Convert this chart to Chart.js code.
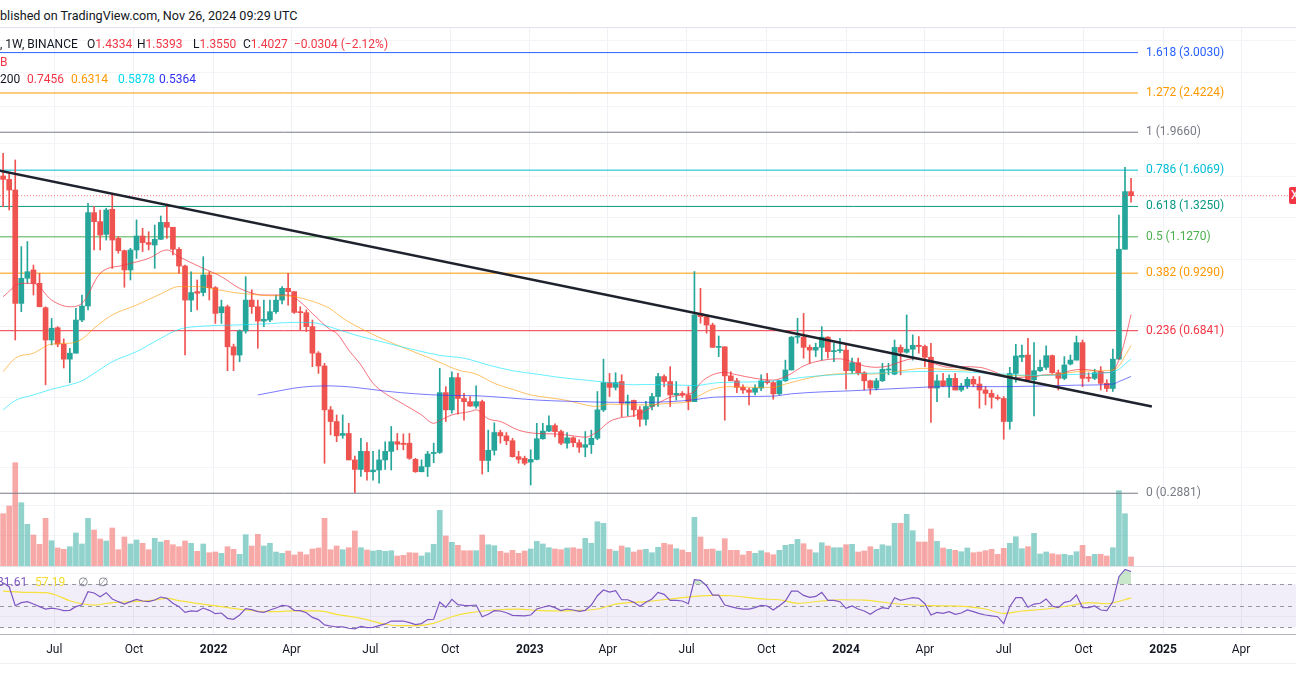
<!DOCTYPE html>
<html>
<head>
<meta charset="utf-8">
<title>1W BINANCE</title>
<script src="https://cdn.jsdelivr.net/npm/chart.js@4.4.1/dist/chart.umd.min.js"></script>
<style>
  html, body { margin: 0; padding: 0; background: #ffffff; }
  body { position: relative; width: 1296px; height: 700px; overflow: hidden;
         font-family: Roboto, "Liberation Sans", Arial, sans-serif; color: #131722; }
  .t { position: absolute; white-space: pre; font-size: 12px; line-height: 14px; z-index: 5; }
  .red { color: #f23645; }
  .sep { position: absolute; left: 0; width: 1296px; height: 1px; z-index: 4; }
  #priceBox { position: absolute; left: 0; top: 28px; width: 1296px; height: 538px; }
  #rsiBox { position: absolute; left: 0; top: 566px; width: 1296px; height: 97px; }
  #xTag { position: absolute; left: 1289px; top: 187px; width: 14px; height: 17px; background: #f23645;
          border-radius: 2px; color: #fff; font-size: 12px; line-height: 17px; padding-left: 2px; z-index: 6; }
</style>
</head>
<body>
<div class="t" style="left:0;top:9px;font-size:12.6px">blished on TradingView.com, Nov 26, 2024 09:29 UTC</div>
<div class="sep" style="top:27px;background:#e0e3eb"></div>

<div class="t" style="left:0;top:37px">, 1W, BINANCE</div>
<div class="t" style="left:87px;top:37px">O<span class="red">1.4334</span></div>
<div class="t" style="left:137px;top:37px">H<span class="red">1.5393</span></div>
<div class="t" style="left:193px;top:37px">L<span class="red">1.3550</span></div>
<div class="t" style="left:243px;top:37px">C<span class="red">1.4027</span></div>
<div class="t red" style="left:294px;top:37px">−0.0304 (−2.12%)</div>
<div class="t red" style="left:0;top:55px">B</div>
<div class="t" style="left:0;top:72px">200</div>
<div class="t" style="left:27px;top:72px;color:#f23645">0.7456</div>
<div class="t" style="left:71px;top:72px;color:#ff9800">0.6314</div>
<div class="t" style="left:118px;top:72px;color:#00d8ee">0.5878</div>
<div class="t" style="left:159px;top:72px;color:#2f2ff0">0.5364</div>

<div id="priceBox"><canvas id="priceChart" width="1296" height="538"></canvas></div>
<div class="sep" style="top:566px;background:#e0e3eb"></div>
<div id="rsiBox"><canvas id="rsiChart" width="1296" height="97"></canvas></div>
<div class="sep" style="top:663px;background:#eef0f4"></div>

<div class="t" style="left:-3px;top:575px;color:#7e57c2">81.61</div>
<div class="t" style="left:35px;top:575px;color:#f2dc2f">57.19</div>
<div class="t" style="left:78px;top:575px;color:#787b86">∅</div>
<div class="t" style="left:98px;top:575px;color:#787b86">∅</div>
<div id="xTag">X</div>

<script>
// weekly candles, first bar = week of 2021-05-03
const firstWeekDate = '2021-05-03';

const opens = [
  1.558,1.530,1.446,0.791,0.904,0.945,0.880,0.773,0.651,0.695,
  0.637,0.588,0.607,0.724,0.780,1.282,1.222,1.142,1.305,1.118,
  1.047,0.945,1.051,1.132,1.093,1.079,1.112,1.217,1.186,1.055,
  0.965,0.805,0.842,0.838,0.920,0.860,0.753,0.777,0.628,0.601,
  0.683,0.805,0.777,0.720,0.724,0.757,0.805,0.857,0.842,0.757,
  0.753,0.699,0.607,0.567,0.449,0.422,0.392,0.396,0.344,0.327,
  0.360,0.323,0.326,0.344,0.360,0.379,0.376,0.376,0.345,0.323,
  0.332,0.356,0.358,0.492,0.449,0.533,0.477,0.469,0.458,0.469,
  0.343,0.362,0.398,0.391,0.381,0.350,0.347,0.340,0.345,0.385,
  0.401,0.413,0.400,0.376,0.387,0.377,0.368,0.373,0.386,0.449,
  0.519,0.506,0.522,0.465,0.472,0.449,0.427,0.457,0.482,0.536,
  0.522,0.486,0.490,0.486,0.469,0.750,0.737,0.705,0.626,0.628,
  0.538,0.524,0.506,0.499,0.493,0.504,0.524,0.519,0.489,0.524,
  0.555,0.661,0.661,0.626,0.617,0.626,0.661,0.612,0.615,0.617,
  0.553,0.577,0.547,0.524,0.504,0.524,0.555,0.543,0.626,0.610,
  0.620,0.633,0.629,0.594,0.504,0.524,0.510,0.531,0.499,0.510,
  0.528,0.515,0.499,0.490,0.480,0.477,0.422,0.545,0.594,0.601,
  0.527,0.553,0.563,0.599,0.547,0.531,0.573,0.585,0.642,0.534,
  0.531,0.550,0.517,0.503,0.588,1.055,1.4334
];
const highs = [
  1.757,1.580,1.696,1.070,1.099,0.970,0.928,0.777,0.730,0.699,
  0.655,0.623,0.771,0.827,1.347,1.323,1.300,1.312,1.421,1.128,
  1.051,1.060,1.233,1.179,1.158,1.200,1.259,1.342,1.186,1.064,
  0.970,0.936,0.896,1.014,0.936,0.865,0.805,0.784,0.637,0.687,
  0.912,0.850,0.805,0.805,0.805,0.827,0.865,0.928,0.842,0.777,
  0.764,0.724,0.612,0.575,0.457,0.437,0.437,0.418,0.351,0.386,
  0.377,0.360,0.363,0.379,0.411,0.396,0.395,0.396,0.347,0.344,
  0.360,0.376,0.560,0.508,0.550,0.545,0.490,0.482,0.510,0.473,
  0.403,0.419,0.403,0.398,0.386,0.360,0.351,0.363,0.418,0.418,
  0.435,0.417,0.403,0.398,0.389,0.383,0.400,0.403,0.495,0.588,
  0.545,0.547,0.541,0.486,0.473,0.457,0.470,0.490,0.545,0.541,
  0.565,0.522,0.495,0.508,0.937,0.857,0.744,0.712,0.665,0.628,
  0.550,0.531,0.513,0.504,0.513,0.541,0.545,0.522,0.526,0.585,
  0.663,0.731,0.750,0.634,0.640,0.699,0.663,0.640,0.657,0.634,
  0.591,0.591,0.550,0.526,0.531,0.575,0.575,0.651,0.634,0.744,
  0.669,0.663,0.634,0.640,0.541,0.545,0.541,0.545,0.517,0.534,
  0.536,0.536,0.508,0.499,0.486,0.482,0.563,0.636,0.634,0.657,
  0.642,0.585,0.631,0.601,0.555,0.596,0.601,0.665,0.651,0.547,
  0.557,0.565,0.527,0.620,1.266,1.631,1.5393
];
const lows = [
  1.323,1.300,0.651,0.757,0.880,0.827,0.777,0.513,0.634,0.628,
  0.561,0.519,0.607,0.718,0.764,1.051,1.051,1.108,0.953,1.033,
  0.862,0.896,1.005,1.042,1.051,0.953,1.112,1.118,1.023,0.928,
  0.601,0.757,0.764,0.823,0.805,0.711,0.711,0.553,0.553,0.580,
  0.675,0.750,0.623,0.699,0.718,0.750,0.789,0.784,0.750,0.687,
  0.681,0.565,0.545,0.338,0.393,0.379,0.386,0.344,0.289,0.315,
  0.309,0.309,0.304,0.327,0.326,0.363,0.363,0.345,0.322,0.323,
  0.315,0.339,0.356,0.422,0.441,0.439,0.425,0.457,0.453,0.319,
  0.323,0.353,0.376,0.373,0.349,0.338,0.335,0.301,0.344,0.384,
  0.400,0.389,0.373,0.366,0.369,0.358,0.350,0.356,0.383,0.445,
  0.482,0.499,0.433,0.435,0.433,0.411,0.414,0.449,0.457,0.508,
  0.457,0.473,0.480,0.449,0.469,0.712,0.675,0.626,0.596,0.425,
  0.524,0.492,0.490,0.461,0.486,0.497,0.515,0.475,0.486,0.522,
  0.555,0.640,0.591,0.575,0.596,0.585,0.591,0.580,0.609,0.501,
  0.545,0.541,0.499,0.488,0.499,0.522,0.541,0.541,0.541,0.607,
  0.585,0.607,0.565,0.420,0.469,0.508,0.480,0.499,0.495,0.503,
  0.508,0.453,0.461,0.453,0.473,0.384,0.405,0.520,0.580,0.522,
  0.435,0.550,0.557,0.545,0.499,0.527,0.570,0.585,0.508,0.522,
  0.527,0.499,0.495,0.495,0.588,1.055,1.355
];
const closes = [
  1.530,1.446,0.791,0.904,0.936,0.880,0.777,0.651,0.693,0.637,
  0.588,0.607,0.724,0.780,1.282,1.222,1.138,1.300,1.108,1.047,
  0.945,1.051,1.132,1.093,1.083,1.112,1.217,1.186,1.055,0.965,
  0.805,0.838,0.835,0.920,0.860,0.750,0.777,0.628,0.601,0.683,
  0.805,0.777,0.720,0.727,0.757,0.805,0.857,0.842,0.754,0.753,
  0.699,0.607,0.567,0.449,0.422,0.391,0.396,0.344,0.327,0.360,
  0.323,0.326,0.344,0.360,0.379,0.374,0.3735,0.347,0.323,0.332,
  0.355,0.358,0.492,0.449,0.533,0.477,0.469,0.458,0.469,0.343,
  0.362,0.398,0.391,0.381,0.350,0.345,0.338,0.345,0.385,0.401,
  0.413,0.400,0.376,0.387,0.377,0.368,0.373,0.386,0.449,0.519,
  0.506,0.519,0.465,0.469,0.449,0.427,0.457,0.482,0.536,0.522,
  0.486,0.490,0.486,0.469,0.744,0.737,0.705,0.626,0.628,0.538,
  0.524,0.506,0.499,0.493,0.504,0.524,0.519,0.489,0.524,0.555,
  0.661,0.663,0.626,0.617,0.626,0.661,0.612,0.615,0.617,0.553,
  0.577,0.547,0.524,0.504,0.524,0.557,0.558,0.626,0.610,0.620,
  0.633,0.629,0.594,0.504,0.524,0.510,0.531,0.499,0.510,0.528,
  0.515,0.499,0.490,0.480,0.477,0.422,0.545,0.598,0.600,0.527,
  0.553,0.563,0.599,0.547,0.531,0.570,0.585,0.642,0.531,0.531,
  0.547,0.517,0.503,0.588,1.055,1.4334,1.4027
];
// weekly volume, millions
const volumes = [
  2615,3000,5165,3165,2085,1550,1085,2385,1265,900,
  835,965,1650,1100,2385,1800,1350,1250,1900,815,
  1450,1100,1300,1135,815,1385,1200,1285,1065,965,
  1250,1135,735,1100,665,700,635,965,835,585,
  1565,1000,1585,1000,1135,700,635,750,550,700,
  565,850,900,2385,815,1000,815,915,1750,915,
  800,750,785,735,765,500,535,665,650,500,
  665,1085,2785,1500,1185,1035,765,765,765,1550,
  1065,1015,735,650,785,635,750,850,1235,1100,
  915,850,815,900,915,850,1385,1135,2215,2135,
  835,750,1000,915,700,800,835,665,935,1135,
  1065,865,800,685,2435,1450,835,850,750,1365,
  785,785,550,735,635,765,665,565,785,1035,
  1085,1335,1115,815,665,1165,1000,915,915,1065,
  1085,700,750,965,835,1065,1000,2135,2135,2585,
  1765,1200,1200,1850,1235,900,835,785,715,900,
  665,700,765,835,585,885,1135,1465,865,965,
  1635,600,700,615,565,585,535,715,1035,485,
  585,585,500,915,3765,2615,450
];
const rsi = [
  71.2,67.5,50.0,52.8,53.7,51.5,49.1,46.9,47.8,46.9,
  45.4,45.7,49.1,50.9,62.9,61.7,58.3,62.0,56.2,53.7,
  51.5,53.7,55.8,54.3,53.7,55.2,58.0,56.8,52.2,49.1,
  43.8,45.1,44.8,47.8,45.7,42.6,43.2,38.3,37.4,41.4,
  47.2,46.3,44.5,43.8,46.0,47.8,50.3,49.7,45.7,45.4,
  43.5,39.2,37.1,32.2,31.2,30.3,30.3,29.1,28.5,30.9,
  29.7,30.0,31.5,33.1,35.8,35.8,35.8,34.3,32.5,33.4,
  37.1,37.4,53.4,48.5,55.8,50.9,50.3,50.0,50.6,39.8,
  42.0,45.4,45.1,43.5,41.1,40.8,40.5,41.4,46.9,48.5,
  50.0,48.2,45.4,46.9,46.0,44.8,45.7,50.6,59.2,64.5,
  62.6,63.8,55.5,55.5,53.1,49.4,53.1,56.2,62.3,60.5,
  54.9,54.9,54.3,51.8,74.0,73.4,68.5,59.8,59.8,50.6,
  49.1,47.8,46.9,46.9,48.2,50.3,49.7,46.0,50.0,54.3,
  63.5,63.5,59.5,57.7,58.6,62.3,54.9,54.9,53.7,47.5,
  49.7,46.9,45.1,42.0,45.7,48.2,47.2,57.4,54.9,56.2,
  57.4,56.8,51.8,41.4,43.8,42.9,44.5,42.0,43.2,46.0,
  44.5,42.6,41.4,40.5,39.8,33.4,49.1,57.4,57.4,48.5,
  51.5,52.2,56.2,49.7,48.2,53.1,54.3,59.8,48.2,48.2,
  49.7,46.0,45.4,53.7,76.8,83.5,81.61
];

// moving averages at sample weeks
const ema20Weeks = [0,3,5,8,11,13,16,20,24,27,29,33,36,39,43,47,49,51,54,55,57,59,61,63,66,69,71,72,74,77,78,80,82,85,88,91,94,96,98,100,102,104,105,108,110,113,114,115,117,119,121,124,127,129,130,132,134,136,138,140,142,144,146,148,150,152,154,156,158,161,163,165,166,168,170,172,174,176,178,180,182,183,184,185,186];
const ema20Values = [0.820,0.880,0.880,0.805,0.777,0.791,0.928,0.970,1.005,1.051,1.014,0.953,0.912,0.857,0.827,0.827,0.797,0.750,0.687,0.675,0.617,0.570,0.517,0.490,0.463,0.437,0.418,0.424,0.437,0.445,0.449,0.428,0.422,0.403,0.396,0.395,0.391,0.388,0.400,0.422,0.431,0.435,0.440,0.465,0.480,0.489,0.495,0.518,0.541,0.548,0.541,0.531,0.526,0.536,0.545,0.567,0.580,0.587,0.589,0.580,0.567,0.563,0.567,0.580,0.589,0.585,0.571,0.563,0.565,0.563,0.553,0.538,0.531,0.534,0.536,0.541,0.541,0.553,0.557,0.553,0.547,0.553,0.585,0.651,0.7456];
const ema50Weeks = [0,2,5,8,11,13,15,18,22,26,29,32,35,38,41,44,47,50,52,54,56,60,63,67,70,72,75,78,81,84,87,90,93,96,98,100,103,106,110,113,115,117,120,124,127,129,131,134,137,140,143,146,149,152,155,160,165,169,173,177,181,183,184,185,186];
const ema50Values = [0.550,0.591,0.607,0.637,0.640,0.654,0.693,0.744,0.784,0.832,0.865,0.865,0.853,0.838,0.830,0.824,0.823,0.808,0.791,0.768,0.731,0.681,0.651,0.617,0.594,0.578,0.555,0.543,0.517,0.501,0.486,0.479,0.472,0.461,0.457,0.463,0.461,0.461,0.465,0.469,0.486,0.501,0.508,0.506,0.506,0.515,0.524,0.536,0.543,0.545,0.543,0.547,0.555,0.560,0.557,0.553,0.541,0.538,0.541,0.550,0.553,0.555,0.567,0.598,0.6314];
const ema100Weeks = [0,2,5,8,11,13,15,18,22,26,29,33,38,43,48,51,54,58,63,68,72,76,80,84,88,92,96,100,104,106,110,114,118,124,128,132,137,142,147,152,156,160,165,170,175,180,183,184,185,186];
const ema100Values = [0.449,0.472,0.486,0.501,0.513,0.524,0.545,0.580,0.612,0.657,0.689,0.701,0.705,0.709,0.715,0.714,0.697,0.669,0.642,0.617,0.600,0.591,0.570,0.553,0.543,0.533,0.526,0.519,0.513,0.514,0.513,0.511,0.519,0.521,0.525,0.534,0.541,0.545,0.548,0.551,0.551,0.548,0.543,0.539,0.541,0.545,0.550,0.557,0.573,0.5878];
const ema200Weeks = [42,45,48,51,54,58,63,68,73,78,83,88,93,98,104,110,114,117,122,127,130,135,140,145,150,155,166,177,183,184,185,186];
const ema200Values = [0.486,0.495,0.504,0.509,0.510,0.506,0.496,0.489,0.485,0.484,0.479,0.473,0.470,0.468,0.467,0.469,0.474,0.480,0.482,0.483,0.489,0.494,0.497,0.501,0.505,0.508,0.508,0.512,0.515,0.522,0.529,0.5364];
const rsiMaWeeks = [0,4,7,9,11,15,18,21,25,27,29,32,36,40,44,48,52,55,59,63,65,68,71,74,77,81,85,88,91,94,98,101,106,111,117,120,125,128,131,135,138,142,147,153,159,162,165,168,172,176,179,182,186];
const rsiMaValues = [63.5,62.3,62.0,59.2,54.6,50.6,52.8,53.7,55.2,56.8,54.6,52.2,49.1,46.0,44.5,45.1,45.1,42.0,38.3,32.8,31.5,31.5,33.7,39.8,43.5,46.0,46.9,45.7,45.1,45.4,46.9,51.5,53.7,56.8,59.5,59.2,56.2,55.5,52.2,54.3,55.5,55.2,51.8,50.0,49.1,46.9,42.9,45.1,46.9,50.0,52.8,51.8,57.19];

// fibonacci retracement
const fibRatios = ['1.618','1.272','1','0.786','0.618','0.5','0.382','0.236','0'];
const fibPrices = [3.0030,2.4224,1.9660,1.6069,1.3250,1.1270,0.9290,0.6841,0.2881];
const fibColors = ['#2962ff','#ff9800','#787b86','#00bcd4','#089981','#4caf50','#ff9800','#f23645','#787b86'];
const fibEndDate = '2024-12-03';

// trend line anchors
const trendDates = ['2021-04-29','2024-12-19'];
const trendPrices = [1.602,0.457];

const rsiLevels = [70, 50, 30];

const tickDates = ['2021-07-01','2021-10-01','2022-01-01','2022-04-01','2022-07-01','2022-10-01','2023-01-01','2023-04-01','2023-07-01','2023-10-01','2024-01-01','2024-04-01','2024-07-01','2024-10-01','2025-01-01','2025-04-01'];
const tickLabels = ['Jul','Oct','2022','Apr','Jul','Oct','2023','Apr','Jul','Oct','2024','Apr','Jul','Oct','2025','Apr'];
const gridPrices = [3.2,2.7,2.25,1.85,1.55,1.25,1.0,0.85,0.7,0.58,0.48,0.4,0.33,0.27,0.23];

const DAY_MS = 86400000;
const dayNum = s => Date.parse(s + 'T00:00:00Z') / DAY_MS;
const X_MIN = dayNum('2021-04-29') + 0.4;
const X_MAX = dayNum('2025-06-03') + 0.4;
const weekX = k => dayNum(firstWeekDate) + 7 * k;
const tickDays = tickDates.map(dayNum);
const FONT = 'Roboto, "Liberation Sans", Arial, sans-serif';

const isUp = closes.map((c, i) => c >= opens[i]);
const candleColors = isUp.map(u => u ? '#26a69a' : '#ef5350');
const volColors = isUp.map(u => u ? 'rgba(38,166,154,0.5)' : 'rgba(239,83,80,0.5)');
const pts = (weeks, values) => weeks.map((k, i) => ({ x: weekX(k), y: values[i] }));

const emaSets = [
  [ema200Weeks, ema200Values, 'rgba(50,50,255,0.65)'],
  [ema100Weeks, ema100Values, 'rgba(0,229,255,0.6)'],
  [ema50Weeks, ema50Values, 'rgba(255,152,0,0.6)'],
  [ema20Weeks, ema20Values, 'rgba(242,54,69,0.7)']
].map(([w, v, c]) => ({
  type: 'line', data: pts(w, v), borderColor: c, borderWidth: 1,
  pointRadius: 0, cubicInterpolationMode: 'monotone', order: 3
}));

const fibSets = fibPrices.map((p, i) => ({
  type: 'line', data: [{ x: X_MIN, y: p }, { x: dayNum(fibEndDate), y: p }],
  borderColor: fibColors[i], borderWidth: 1, pointRadius: 0, order: 6
}));

const fibLabels = {
  id: 'fibLabels',
  afterDatasetsDraw(chart) {
    const { ctx, scales: { x, y } } = chart;
    const lx = x.getPixelForValue(dayNum(fibEndDate)) + 8;
    ctx.save();
    ctx.font = '12px ' + FONT;
    ctx.textBaseline = 'middle';
    fibRatios.forEach((r, i) => {
      ctx.fillStyle = fibColors[i];
      ctx.fillText(r + ' (' + fibPrices[i].toFixed(4) + ')', lx, y.getPixelForValue(fibPrices[i]));
    });
    ctx.restore();
  }
};

const hiddenAxis = { afterFit: s => { s.width = 0; }, ticks: { display: false }, border: { display: false } };

new Chart(document.getElementById('priceChart'), {
  type: 'bar',
  data: {
    datasets: [
      { type: 'line', data: trendDates.map((d, i) => ({ x: dayNum(d), y: trendPrices[i] })),
        borderColor: '#1e222d', borderWidth: 2.5, pointRadius: 0, order: 1 },
      { type: 'line', data: [{ x: X_MIN, y: closes[closes.length - 1] }, { x: X_MAX, y: closes[closes.length - 1] }],
        borderColor: 'rgba(242,54,69,0.7)', borderWidth: 1, borderDash: [1, 2], pointRadius: 0, order: 2 },
      ...emaSets,
      { data: opens.map((o, i) => ({ x: weekX(i), y: [o, closes[i]] })), backgroundColor: candleColors,
        barThickness: 5, minBarLength: 1, grouped: false, order: 4 },
      { data: lows.map((l, i) => ({ x: weekX(i), y: [l, highs[i]] })), backgroundColor: candleColors,
        barThickness: 1, grouped: false, order: 5 },
      ...fibSets,
      { yAxisID: 'yVol', data: volumes.map((v, i) => ({ x: weekX(i), y: v })), backgroundColor: volColors,
        barThickness: 5, grouped: false, order: 7 }
    ]
  },
  options: {
    responsive: false, animation: false, events: [],
    layout: { padding: 0 },
    plugins: { legend: { display: false }, tooltip: { enabled: false } },
    scales: {
      x: {
        type: 'linear', min: X_MIN, max: X_MAX, bounds: 'data', offset: false,
        afterBuildTicks: s => { s.ticks = tickDays.map(v => ({ value: v })); },
        afterFit: s => { s.height = 0; },
        ticks: { display: false }, border: { display: false },
        grid: { color: '#eef1f6', drawTicks: false, offset: false }
      },
      y: {
        ...hiddenAxis, type: 'logarithmic', position: 'right', min: 0.19566, max: 3.4229, bounds: 'data',
        afterBuildTicks: s => { s.ticks = gridPrices.map(v => ({ value: v })); },
        grid: { color: '#f2f4f8', drawTicks: false }
      },
      yVol: { type: 'linear', position: 'left', min: 0, max: 26900, display: false }
    }
  },
  plugins: [fibLabels]
});

const rsiBand = {
  id: 'rsiBand',
  beforeDatasetsDraw(chart) {
    const { ctx, chartArea: a, scales: { y } } = chart;
    const y70 = y.getPixelForValue(rsiLevels[0]);
    const y30 = y.getPixelForValue(rsiLevels[2]);
    ctx.save();
    ctx.fillStyle = 'rgba(126,87,194,0.1)';
    ctx.fillRect(a.left, y70, a.right - a.left, y30 - y70);
    ctx.strokeStyle = '#9598a1';
    ctx.lineWidth = 1;
    ctx.setLineDash([4, 4]);
    rsiLevels.forEach(v => {
      const yy = Math.round(y.getPixelForValue(v)) + 0.5;
      ctx.beginPath(); ctx.moveTo(a.left, yy); ctx.lineTo(a.right, yy); ctx.stroke();
    });
    ctx.restore();
  }
};

new Chart(document.getElementById('rsiChart'), {
  type: 'line',
  data: {
    datasets: [
      { data: rsi.map((v, i) => ({ x: weekX(i), y: v })), borderColor: '#7e57c2', borderWidth: 1.2,
        pointRadius: 0, order: 1,
        fill: { target: { value: 70 }, above: 'rgba(76,175,80,0.3)', below: 'rgba(0,0,0,0)' } },
      { data: pts(rsiMaWeeks, rsiMaValues), borderColor: '#f5e13a', borderWidth: 1.2,
        pointRadius: 0, cubicInterpolationMode: 'monotone', order: 2 }
    ]
  },
  options: {
    responsive: false, animation: false, events: [],
    layout: { padding: 0 },
    plugins: { legend: { display: false }, tooltip: { enabled: false } },
    scales: {
      x: {
        type: 'linear', min: X_MIN, max: X_MAX, bounds: 'data', offset: false,
        afterBuildTicks: s => { s.ticks = tickDays.map(v => ({ value: v })); },
        afterFit: s => { s.height = 29; },
        border: { display: true, color: '#b2b5be', width: 1 },
        grid: { color: '#eef1f6', drawTicks: false },
        ticks: {
          autoSkip: false, maxRotation: 0, padding: 9, color: '#131722',
          callback: (v, i) => tickLabels[i],
          font: c => ({ family: FONT, size: 12,
            weight: /^\d{4}$/.test(tickLabels[c.index] || '') ? 'bold' : 'normal' })
        }
      },
      y: {
        ...hiddenAxis, type: 'linear', position: 'right', min: 23.8, max: 86.7, bounds: 'data',
        afterBuildTicks: s => { s.ticks = [40, 80].map(v => ({ value: v })); },
        grid: { color: '#f2f4f8', drawTicks: false }
      }
    }
  },
  plugins: [rsiBand]
});
</script>
</body>
</html>
